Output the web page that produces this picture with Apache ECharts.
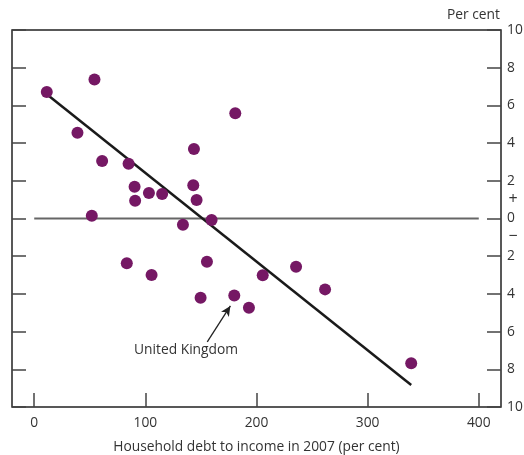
<!DOCTYPE html>
<html>
<head>
<meta charset="utf-8">
<script src="https://cdn.jsdelivr.net/npm/echarts@6/dist/echarts.min.js"></script>
<style>html,body{margin:0;padding:0;background:#fff;}#c{width:524px;height:455px;}</style>
</head>
<body>
<div id="c"></div>
<script>
const debtX = [11.3, 54.2, 38.9, 61.1, 84.9, 90.3, 90.8, 103.2, 115.1, 51.8, 133.8, 143.7, 143.1, 146.1, 159.6, 180.9, 83.3, 105.6, 155.4, 205.6, 235.6, 261.7, 149.7, 180.0, 193.2, 339.2];
const changeY = [6.71, 7.38, 4.55, 3.05, 2.91, 1.69, 0.94, 1.35, 1.30, 0.15, -0.33, 3.69, 1.76, 0.98, -0.08, 5.58, -2.38, -3.0, -2.29, -3.01, -2.56, -3.76, -4.2, -4.09, -4.73, -7.68];
const fitLine = [[11, 6.6], [339.2, -8.83]];
const zeroLine = [[0, 0], [400, 0]];
const xTicks = [0, 100, 200, 300, 400];
const ukPoint = [180.0, -4.09];
const ukArrowTail = [155.7, -6.54];
const ukLabel = 'United Kingdom';
const xTitle = 'Household debt to income in 2007 (per cent)';
const yUnit = 'Per cent';

const FONT = 'Open Sans';
const FS = 13.8;
const chart = echarts.init(document.getElementById('c'), null, {renderer: 'canvas'});
const tickStyle = {show: true, inside: true, length: 14, lineStyle: {color: '#444', width: 1.5}};
chart.setOption({
  animation: false,
  grid: {left: 12, right: 23, top: 30, bottom: 48, containLabel: false, outerBoundsMode: 'none',
         show: true, borderColor: '#222', borderWidth: 1.5, backgroundColor: 'transparent'},
  xAxis: {
    type: 'value', min: -20, max: 420,
    axisLine: {show: false, onZero: false},
    splitLine: {show: false},
    axisTick: Object.assign({}, tickStyle, {customValues: xTicks}),
    axisLabel: {customValues: xTicks, color: '#333', fontFamily: FONT, fontSize: FS, margin: 9},
    name: xTitle, nameLocation: 'middle', nameGap: 33,
    nameTextStyle: {color: '#333', fontFamily: FONT, fontSize: FS}
  },
  yAxis: [
    {type: 'value', min: -10, max: 10, interval: 2, position: 'left',
     axisLine: {show: false, onZero: false}, splitLine: {show: false},
     axisTick: tickStyle, axisLabel: {show: false}},
    {type: 'value', min: -10, max: 10, interval: 2, position: 'right',
     axisLine: {show: false, onZero: false}, splitLine: {show: false},
     axisTick: tickStyle,
     axisLabel: {color: '#333', fontFamily: FONT, fontSize: FS, margin: 6, formatter: v => String(Math.abs(v))}}
  ],
  graphic: [
    {type: 'text', right: 24, top: 8, style: {text: yUnit, fill: '#333', font: FS + 'px "Open Sans"'}},
    {type: 'text', x: 513, y: 199, style: {text: '+', fill: '#333', font: '16px "Open Sans"', align: 'center', verticalAlign: 'middle'}},
    {type: 'text', x: 513, y: 236, style: {text: '\u2212', fill: '#333', font: '16px "Open Sans"', align: 'center', verticalAlign: 'middle'}},
    {type: 'text', left: 134, top: 343, style: {text: ukLabel, fill: '#333', font: FS + 'px "Open Sans"'}}
  ],
  series: [
    {type: 'line', data: zeroLine, symbol: 'none', silent: true,
     lineStyle: {color: '#666', width: 2}, z: 1},
    {type: 'line', data: fitLine, symbol: 'none', silent: true,
     lineStyle: {color: '#1a1a1a', width: 2.5}, z: 2},
    {type: 'scatter', data: debtX.map((x, i) => [x, changeY[i]]), symbolSize: 12,
     itemStyle: {color: '#751864', opacity: 1}, z: 3,
     markLine: {silent: true, symbol: ['none', 'arrow'], symbolSize: [7, 10], animation: false,
       lineStyle: {color: '#222', width: 1.3, type: 'solid'}, label: {show: false},
       data: [[{coord: ukArrowTail}, {coord: [ukPoint[0] - 3.5, ukPoint[1] - 0.55]}]]}}
  ]
});
</script>
</body>
</html>
